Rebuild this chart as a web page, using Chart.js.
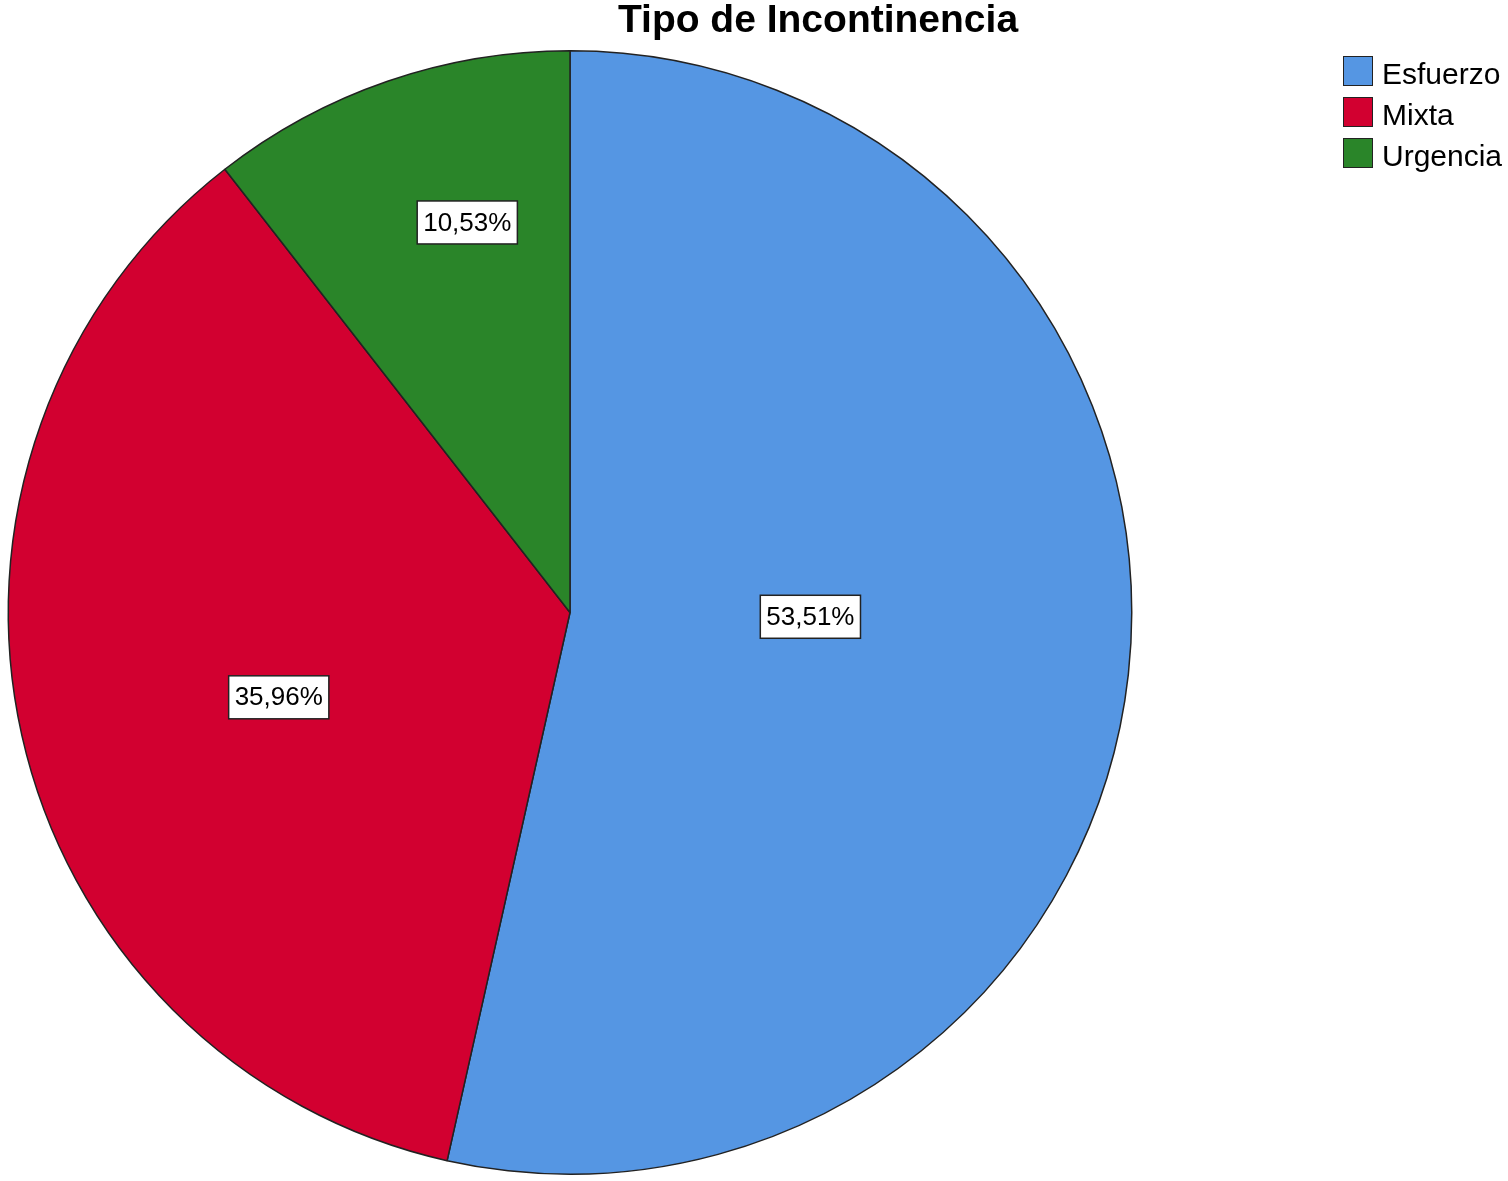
<!DOCTYPE html>
<html>
<head>
<meta charset="utf-8">
<script src="https://cdn.jsdelivr.net/npm/chart.js@4.4.0/dist/chart.umd.min.js"></script>
<style>
  html, body { margin: 0; padding: 0; background: #fff; }
  #wrap { position: relative; width: 1508px; height: 1181px; }
  #title {
    position: absolute; left: 818px; top: -3px; transform: translateX(-50%);
    font: bold 39px "Liberation Sans", Arial, sans-serif; color: #000; white-space: nowrap;
  }
  #legend { position: absolute; left: 1343px; top: 56px; font: 30px "Liberation Sans", Arial, sans-serif; }
  .item { height: 41px; display: flex; align-items: flex-start; white-space: nowrap; }
  .swatch { width: 28px; height: 28px; border: 1px solid #222; margin-right: 9px; flex: none; }
  .item span { line-height: 30px; margin-top: 3px; }
</style>
</head>
<body>
<div id="wrap">
  <canvas id="c" width="1508" height="1181"></canvas>
  <div id="title">Tipo de Incontinencia</div>
  <div id="legend"></div>
</div>
<script>
const categories = ["Esfuerzo", "Mixta", "Urgencia"];
const percents = [53.51, 35.96, 10.53];
const colors = ["#5596E3", "#D20030", "#2A8529"];

// legend
const legend = document.getElementById("legend");
categories.forEach((name, i) => {
  const item = document.createElement("div");
  item.className = "item";
  item.innerHTML = `<div class="swatch" style="background:${colors[i]}"></div><span>${name}</span>`;
  legend.appendChild(item);
});

// where each label sits: fraction of radius, and turn from the slice middle (degrees)
const labelDist = [0.428, 0.54, 0.718];
const labelTurn = [-5.3, -3.6, 4.2];

const boxLabels = {
  id: "boxLabels",
  afterDatasetsDraw(chart) {
    const ctx = chart.ctx;
    const meta = chart.getDatasetMeta(0);
    ctx.save();
    ctx.font = '26px "Liberation Sans", Arial, sans-serif';
    ctx.textAlign = "center";
    ctx.textBaseline = "middle";
    meta.data.forEach((arc, i) => {
      const p = arc.getProps(["x", "y", "startAngle", "endAngle", "outerRadius"], true);
      const mid = (p.startAngle + p.endAngle) / 2 + labelTurn[i] * Math.PI / 180;
      const r = p.outerRadius * labelDist[i];
      const x = p.x + Math.cos(mid) * r;
      const y = p.y + Math.sin(mid) * r;
      const text = percents[i].toFixed(2).replace(".", ",") + "%";
      const w = ctx.measureText(text).width + 12;
      const h = 43;
      ctx.fillStyle = "#fff";
      ctx.fillRect(x - w / 2, y - h / 2, w, h);
      ctx.strokeStyle = "#222";
      ctx.lineWidth = 1.5;
      ctx.strokeRect(x - w / 2, y - h / 2, w, h);
      ctx.fillStyle = "#000";
      ctx.fillText(text, x, y + 1);
    });
    ctx.restore();
  }
};

new Chart(document.getElementById("c"), {
  type: "pie",
  data: {
    labels: categories,
    datasets: [{
      data: percents,
      backgroundColor: colors,
      borderColor: "#222",
      borderWidth: 1.5
    }]
  },
  options: {
    responsive: false,
    animation: false,
    layout: { padding: { left: 7, right: 375, top: 50, bottom: 6 } },
    plugins: {
      legend: { display: false },
      title: { display: false },
      tooltip: { enabled: false }
    }
  },
  plugins: [boxLabels]
});
</script>
</body>
</html>
